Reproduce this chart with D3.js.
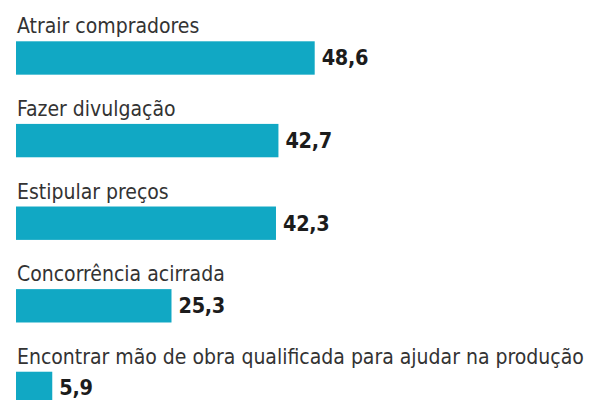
<!DOCTYPE html>
<html>
<head>
<meta charset="utf-8">
<script src="https://cdn.jsdelivr.net/npm/d3@7"></script>
<style>
  body { margin: 0; background: #fff; }
  #grafico { width: 591px; height: 400px; }
  .rotulo { font-family: "DejaVu Sans Condensed", sans-serif; fill: #333; }
  .valor { font-family: "DejaVu Sans Condensed", sans-serif; font-weight: bold; fill: #1c1c1c; }
</style>
</head>
<body>
<div id="grafico"></div>
<script>
var categorias = ["Atrair compradores", "Fazer divulgação", "Estipular preços", "Concorrência acirrada", "Encontrar mão de obra qualificada para ajudar na produção"];
var valores = [48.6, 42.7, 42.3, 25.3, 5.9];
var rotulosValor = ["48,6", "42,7", "42,3", "25,3", "5,9"];

desenhaBarras()

function desenhaBarras(){
	var ancho = 591, alto = 400;

	var svg = d3.select("#grafico")
		.append("svg")
		.attr("width", ancho)
		.attr("height", alto)

	var x = d3.scaleLinear()
		.domain([0, 48.6])
		.range([16, 314.7])

	// bandas: passo ~82.6px, barra ~33.4px
	var y = d3.scaleBand()
		.domain(categorias)
		.range([41.3, 405.1])
		.paddingInner(0.596)
		.paddingOuter(0)
		.align(0)

	var dados = categorias.map(function(c, i){
		return {cat: c, val: valores[i], txt: rotulosValor[i]}
	})

	svg.selectAll("rect.barra")
		.data(dados)
		.enter()
		.append("rect")
		.attr("class", "barra")
		.attr("x", x(0))
		.attr("y", d => y(d.cat))
		.attr("width", d => x(d.val) - x(0))
		.attr("height", y.bandwidth())
		.style("fill", "#11a8c4")

	svg.selectAll("text.rotulo")
		.data(dados)
		.enter()
		.append("text")
		.attr("class", "rotulo")
		.attr("x", x(0) + 1)
		.attr("y", d => y(d.cat) - 8)
		.style("font-size", "21px")
		.text(d => d.cat)

	// valor centrado na barra (a ultima fica cortada pela borda, como no original)
	svg.selectAll("text.valor")
		.data(dados)
		.enter()
		.append("text")
		.attr("class", "valor")
		.attr("x", d => x(d.val) + 7)
		.attr("y", d => Math.min(y(d.cat) + y.bandwidth() / 2 + 7.5, 394.5))
		.style("font-size", "21.5px")
		.style("letter-spacing", "-0.3px")
		.text(d => d.txt)
}
</script>
</body>
</html>
